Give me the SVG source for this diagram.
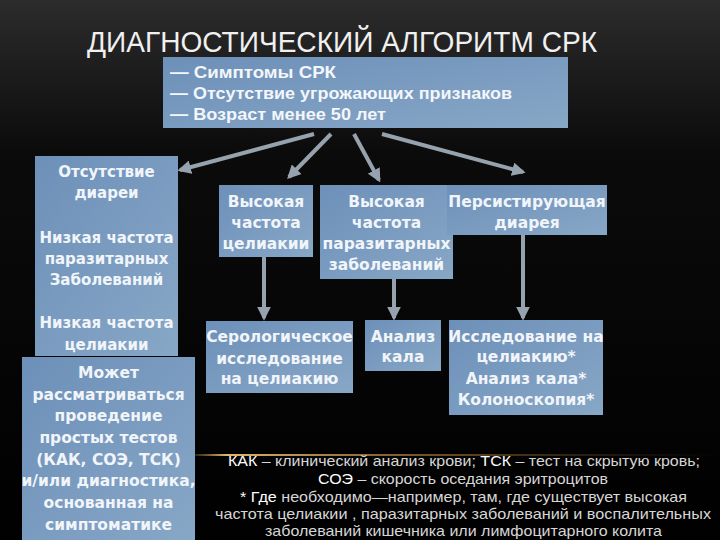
<svg xmlns="http://www.w3.org/2000/svg" width="720" height="540" viewBox="0 0 720 540">
<defs>
<linearGradient id="bg" x1="0" y1="0" x2="0" y2="1">
<stop offset="0" stop-color="#2c2c2c"/>
<stop offset="0.28" stop-color="#0b0b0b"/>
<stop offset="1" stop-color="#000"/>
</linearGradient>
<linearGradient id="box" x1="0" y1="0" x2="1" y2="1">
<stop offset="0" stop-color="#6d90b9"/>
<stop offset="1" stop-color="#87a7c6"/>
</linearGradient>
<linearGradient id="glow" x1="0" y1="0" x2="1" y2="0">
<stop offset="0" stop-color="#e0a84a" stop-opacity="0.2"/>
<stop offset="0.06" stop-color="#f0c070" stop-opacity="0.95"/>
<stop offset="0.45" stop-color="#c89040" stop-opacity="0.55"/>
<stop offset="1" stop-color="#805020" stop-opacity="0"/>
</linearGradient>
<marker id="ah" viewBox="0 0 10 10" refX="8" refY="5" markerWidth="3.4" markerHeight="3.4" orient="auto">
<path d="M0,0 L10,5 L0,10 z" fill="#96a2ae"/>
</marker>
<style>
.bx{fill:url(#box)}
.t{font-family:"DejaVu Sans",Verdana,sans-serif;font-weight:bold;font-size:15.5px;fill:#f1f5fa;text-anchor:middle}
.l1{font-size:15px}
.top{font-family:"Liberation Sans",Arial,sans-serif;font-weight:bold;font-size:17px;fill:#f3f6fa}
.note{font-family:"Liberation Sans",Arial,sans-serif;font-size:15px;fill:#d6d6d6}
.hl{fill:#ffffff}
.c{stroke:#96a2ae;stroke-width:4;fill:none;marker-end:url(#ah)}
</style>
</defs>
<rect width="720" height="540" fill="url(#bg)"/>
<rect x="195" y="454" width="525" height="2" fill="url(#glow)"/>

<text x="87" y="52" font-family="Liberation Sans, Arial, sans-serif" font-size="30" fill="#f0f0f0" textLength="510" lengthAdjust="spacingAndGlyphs">ДИАГНОСТИЧЕСКИЙ АЛГОРИТМ СРК</text>

<g id="connectors">
<line class="c" x1="314" y1="134" x2="180" y2="170"/>
<line class="c" x1="331" y1="134" x2="289" y2="177"/>
<line class="c" x1="354" y1="134" x2="379" y2="180"/>
<line class="c" x1="382" y1="134" x2="523" y2="172"/>
<line class="c" x1="264" y1="257" x2="264" y2="318"/>
<line class="c" x1="394" y1="279" x2="394" y2="318"/>
<line class="c" x1="523" y1="235" x2="523" y2="318"/>
</g>

<g id="n-start">
<rect class="bx" x="163" y="57" width="405" height="71"/>
<text class="top" x="170" y="78" textLength="166" lengthAdjust="spacingAndGlyphs">— Симптомы СРК</text>
<text class="top" x="170" y="99" textLength="342" lengthAdjust="spacingAndGlyphs">— Отсутствие угрожающих признаков</text>
<text class="top" x="170" y="120" textLength="216" lengthAdjust="spacingAndGlyphs">— Возраст менее 50 лет</text>
</g>

<g id="n-nodiarrhea">
<rect class="bx" x="35" y="156" width="143" height="200"/>
<text class="t l1" x="106.5" y="177">Отсутствие</text>
<text class="t l1" x="106.5" y="198">диареи</text>
<text class="t l1" x="106.5" y="243">Низкая частота</text>
<text class="t l1" x="106.5" y="264">паразитарных</text>
<text class="t l1" x="106.5" y="285">Заболеваний</text>
<text class="t l1" x="106.5" y="328">Низкая частота</text>
<text class="t l1" x="106.5" y="350">целиакии</text>
</g>

<g id="n-simple">
<rect class="bx" x="22" y="357" width="173" height="185"/>
<text class="t" x="108.5" y="378">Может</text>
<text class="t" x="108.5" y="400">рассматриваться</text>
<text class="t" x="108.5" y="421">проведение</text>
<text class="t" x="108.5" y="443">простых тестов</text>
<text class="t" x="108.5" y="465">(КАК, СОЭ, ТСК)</text>
<text class="t" x="108.5" y="486">и/или диагностика,</text>
<text class="t" x="108.5" y="508">основанная на</text>
<text class="t" x="108.5" y="530">симптоматике</text>
</g>

<g id="n-celiac">
<rect class="bx" x="219" y="185" width="94" height="72"/>
<text class="t" x="266" y="207">Высокая</text>
<text class="t" x="266" y="228">частота</text>
<text class="t" x="266" y="249">целиакии</text>
</g>

<g id="n-parasite">
<rect class="bx" x="320" y="185" width="133" height="94"/>
<text class="t" x="386.5" y="207">Высокая</text>
<text class="t" x="386.5" y="228">частота</text>
<text class="t" x="386.5" y="249">паразитарных</text>
<text class="t" x="386.5" y="270">заболеваний</text>
</g>

<g id="n-persist">
<rect class="bx" x="447" y="185" width="160" height="50"/>
<text class="t" x="527" y="207">Персистирующая</text>
<text class="t" x="527" y="228">диарея</text>
</g>

<g id="n-serology">
<rect class="bx" x="206" y="321" width="147" height="72"/>
<text class="t" x="279.5" y="342">Серологическое</text>
<text class="t" x="279.5" y="364">исследование</text>
<text class="t" x="279.5" y="384">на целиакию</text>
</g>

<g id="n-stool">
<rect class="bx" x="365" y="320" width="76" height="51"/>
<text class="t" x="403" y="342">Анализ</text>
<text class="t" x="403" y="362">кала</text>
</g>

<g id="n-tests">
<rect class="bx" x="449" y="320" width="154" height="95"/>
<text class="t" x="526" y="342">Исследование на</text>
<text class="t" x="526" y="362">целиакию*</text>
<text class="t" x="526" y="384">Анализ кала*</text>
<text class="t" x="526" y="405">Колоноскопия*</text>
</g>

<g id="note">
<text class="note" x="228" y="466" textLength="472" lengthAdjust="spacingAndGlyphs"><tspan class="hl">КАК</tspan> – клинический анализ крови; <tspan class="hl">ТСК</tspan> – тест на скрытую кровь;</text>
<text class="note" x="318" y="484" textLength="290" lengthAdjust="spacingAndGlyphs"><tspan class="hl">СОЭ</tspan> – скорость оседания эритроцитов</text>
<text class="note" x="240" y="502" textLength="447" lengthAdjust="spacingAndGlyphs"><tspan class="hl">* Где</tspan> необходимо—например, там, где существует высокая</text>
<text class="note" x="215" y="519" textLength="496" lengthAdjust="spacingAndGlyphs">частота целиакии , паразитарных заболеваний и воспалительных</text>
<text class="note" x="265" y="536" textLength="397" lengthAdjust="spacingAndGlyphs">заболеваний кишечника или лимфоцитарного колита</text>
</g>
</svg>
